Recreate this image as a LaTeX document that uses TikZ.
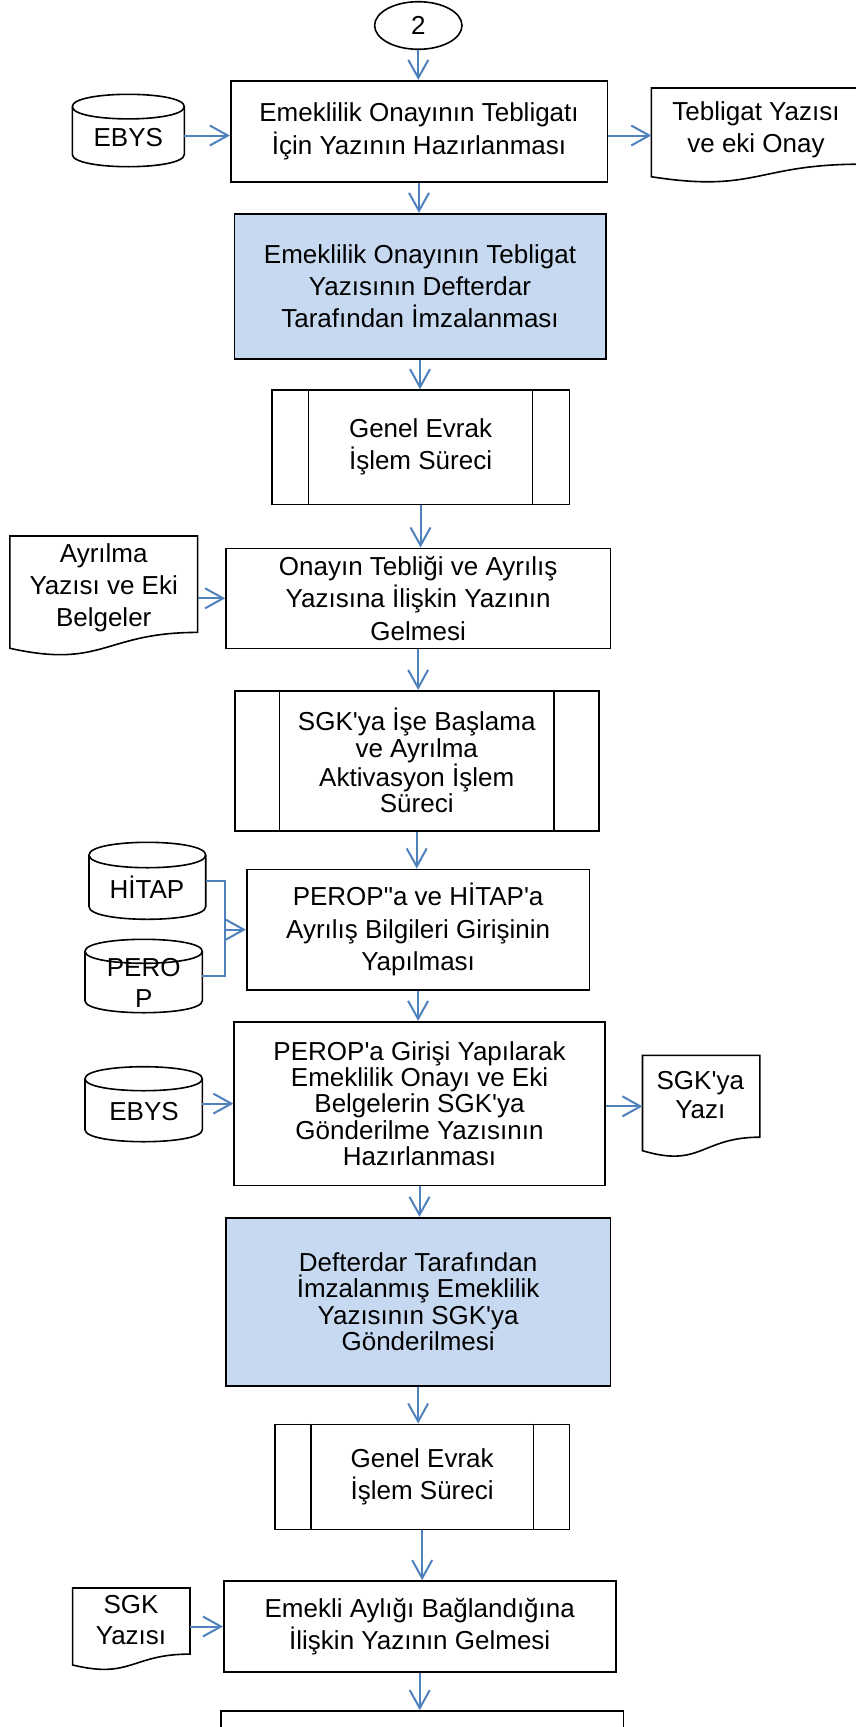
\documentclass[tikz,border=0pt]{standalone}
\usepackage{fontspec}
\setmainfont{Liberation Sans}
\usetikzlibrary{arrows.meta,calc,shapes.geometric}
\definecolor{arrblue}{RGB}{79,129,189}
\definecolor{boxblue}{RGB}{198,217,241}
\newcommand\apo{\textquotesingle}
\newcommand\dqo{\textquotedbl}
% document shape drawn on an invisible frame node
\newcommand\docdraw[1]{%
  \draw[shp] (#1.north west) -- (#1.north east)
    -- ($(#1.north east)!0.802!(#1.south east)$)
    .. controls ($(#1.north)!0.802!(#1.south)$) and ($(#1.north)!1.1075!(#1.south)$)
    .. ($(#1.north west)!0.934!(#1.south west)$) -- cycle;}
% cylinder drawn on an invisible frame node, #2 = ellipse y radius
\newcommand\cyldraw[2]{%
  \draw[shp] ($(#1.north west)+(0,#2)$) -- ($(#1.south west)+(0,-#2)$)
    .. controls ($(#1.south west)+(0,{#2/3})$) and ($(#1.south east)+(0,{#2/3})$)
    .. ($(#1.south east)+(0,-#2)$) -- ($(#1.north east)+(0,#2)$)
    .. controls ($(#1.north east)+(0,{-#2/3})$) and ($(#1.north west)+(0,{-#2/3})$)
    .. ($(#1.north west)+(0,#2)$) -- cycle;
  \draw[shp,fill=none] ($(#1.north west)+(0,#2)$)
    .. controls ($(#1.north west)+(0,{7*#2/3})$) and ($(#1.north east)+(0,{7*#2/3})$)
    .. ($(#1.north east)+(0,#2)$);}
% predefined process inner lines, #2 = inset
\newcommand\predefdraw[2]{%
  \draw[line width=1.6pt] ($(#1.north west)+(#2,0)$) -- ($(#1.south west)+(#2,0)$);
  \draw[line width=1.6pt] ($(#1.north east)+(-#2,0)$) -- ($(#1.south east)+(-#2,0)$);}
\begin{document}
\begin{tikzpicture}[x=1pt,y=-1pt,
  box/.style={draw=black, line width=1.6pt, fill=white, inner sep=0pt, align=center,
    font=\fontsize{26}{32.3}\selectfont},
  bluebox/.style={box, fill=boxblue},
  tight/.style={font=\fontsize{26}{26.4}\selectfont},
  frame/.style={inner sep=0pt, outer sep=0pt},
  shp/.style={draw=black, line width=1.6pt, fill=white},
  lbl/.style={inner sep=0pt, align=center, font=\fontsize{26}{#1}\selectfont},
  arr/.style={draw=arrblue, line width=2pt, -{Straight Barb[length=18pt,width=20pt]}},
  ln/.style={draw=arrblue, line width=2pt}]
\useasboundingbox (0,0) rectangle (856,1727);

% ---- main column ----
\node[draw, line width=1.6pt, ellipse, minimum width=87.4pt, minimum height=47.6pt, inner sep=0pt,
  font=\fontsize{26}{30}\selectfont] (c2) at (418.3,25.5) {2};
\node[box, minimum width=376.6pt, minimum height=101.3pt] (b1) at (419,131.35)
  {Emeklilik Onayının Tebligatı\\İçin Yazının Hazırlanması};
\node[bluebox, minimum width=371.4pt, minimum height=145.3pt] (b2) at (420,286.35)
  {Emeklilik Onayının Tebligat\\Yazısının Defterdar\\Tarafından İmzalanması};
\node[box, minimum width=297.5pt, minimum height=114.3pt] (b3) at (420.55,447.15)
  {Genel Evrak\\İşlem Süreci};
\predefdraw{b3}{37.5}
\node[box, minimum width=384.3pt, minimum height=100pt] (b4) at (418.15,598.3)
  {Onayın Tebliği ve Ayrılış\\Yazısına İlişkin Yazının\\Gelmesi};
\node[box, tight, minimum width=364.1pt, minimum height=140pt] (b5) at (416.75,760.7)
  {SGK\apo ya İşe Başlama\\ve Ayrılma\\Aktivasyon İşlem\\Süreci};
\predefdraw{b5}{45.5}
\node[box, minimum width=342.8pt, minimum height=120.7pt] (b6) at (418.1,929.65)
  {PEROP\dqo a ve HİTAP\apo a\\Ayrılış Bilgileri Girişinin\\Yapılması};
\node[box, tight, minimum width=370.6pt, minimum height=163.8pt] (b7) at (419.5,1103.6)
  {PEROP\apo a Girişi Yapılarak\\Emeklilik Onayı ve Eki\\Belgelerin SGK\apo ya\\Gönderilme Yazısının\\Hazırlanması};
\node[bluebox, tight, minimum width=384.3pt, minimum height=168pt] (b8) at (418.15,1301.7)
  {Defterdar Tarafından\\İmzalanmış Emeklilik\\Yazısının SGK\apo ya\\Gönderilmesi};
\node[box, minimum width=294.3pt, minimum height=105pt] (b9) at (422.15,1476.8)
  {Genel Evrak\\İşlem Süreci};
\predefdraw{b9}{36.6}
\node[box, minimum width=391.9pt, minimum height=91pt] (b10) at (419.75,1626.5)
  {Emekli Aylığı Bağlandığına\\İlişkin Yazının Gelmesi};
\node[box, minimum width=402.4pt, minimum height=60pt] (b11) at (422.2,1741) {};

% ---- documents ----
\node[frame, minimum width=209.7pt, minimum height=95pt] (tebl) at (756.15,135.5) {};
\docdraw{tebl}
\node[lbl=32] (teblT) at (756,129.9) {Tebligat Yazısı\\ve eki Onay};
\node[frame, minimum width=187.8pt, minimum height=120.2pt] (ayr) at (103.7,596.1) {};
\docdraw{ayr}
\node[lbl=31.7] (ayrT) at (103.7,587.6) {Ayrılma\\Yazısı ve Eki\\Belgeler};
\node[frame, minimum width=117.3pt, minimum height=102.1pt] (sgky) at (701.15,1106.35) {};
\docdraw{sgky}
\node[lbl=28.7] (sgkyT) at (700.3,1095) {SGK\apo ya\\Yazı};
\node[frame, minimum width=117.4pt, minimum height=82.4pt] (sgkz) at (131.3,1629.2) {};
\docdraw{sgkz}
\node[lbl=30.7] (sgkzT) at (131,1620.3) {SGK\\Yazısı};

% ---- databases ----
\node[frame, minimum width=112pt, minimum height=72.4pt] (ebys) at (128.3,130.5) {};
\cyldraw{ebys}{12.3}
\node[lbl=30] (ebysT) at (128.3,137.35) {EBYS};
\node[frame, minimum width=116.7pt, minimum height=77pt] (hitap) at (147.35,880.8) {};
\cyldraw{hitap}{12.7}
\node[lbl=30] (hitapT) at (147,886.75) {HİTAP};
\node[frame, minimum width=117.3pt, minimum height=73.4pt] (perop) at (143.65,976) {};
\cyldraw{perop}{12}
\node[lbl=31.6] (peropT) at (143.7,983) {PERO\\P};
\node[frame, minimum width=117.3pt, minimum height=75pt] (ebys2) at (143.65,1104.2) {};
\cyldraw{ebys2}{12}
\node[lbl=30] (ebys2T) at (144,1111.65) {EBYS};

% ---- connectors ----
\draw[arr] (c2.south) -- (c2.south |- b1.north);
\draw[arr] (b1.south) -- (b1.south |- b2.north);
\draw[arr] (b2.south) -- (b2.south |- b3.north);
\draw[arr] (b3.south) -- (b3.south |- b4.north);
\draw[arr] (b4.south) -- (b4.south |- b5.north);
\draw[arr] (b5.south) -- (b5.south |- b6.north);
\draw[arr] (b6.south) -- (b6.south |- b7.north);
\draw[arr] (b7.south) -- (b7.south |- b8.north);
\draw[arr] (b8.south) -- (b8.south |- b9.north);
\draw[arr] (b9.south) -- (b9.south |- b10.north);
\draw[arr] (b10.south) -- (b10.south |- b11.north);

\draw[arr] (ebys.east |- tebl.west) -- (b1.west |- tebl.west);
\draw[arr] (b1.east |- tebl.west) -- (tebl.west);
\draw[arr] (ayr.east |- b4.west) -- (b4.west);
\coordinate (j) at ($(b6.west)+(-20.5,0)$);
\draw[ln] (hitap.east) -| (j);
\draw[ln] (perop.east) -| (j);
\draw[arr] (j) -- (b6.west);
\draw[arr] (ebys2.east |- b7.west) -- (b7.west);
\draw[arr] (b7.east |- sgky.west) -- (sgky.west);
\draw[arr] (sgkz.east |- b10.west) -- (b10.west);
\end{tikzpicture}
\end{document}
